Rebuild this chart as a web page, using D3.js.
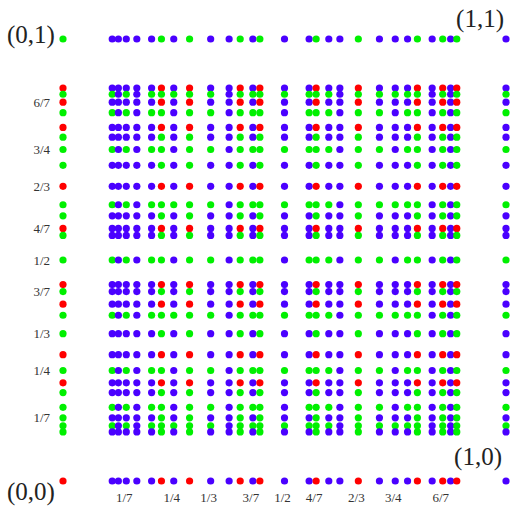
<!DOCTYPE html>
<html>
<head>
<meta charset="utf-8">
<script src="https://cdn.jsdelivr.net/npm/d3@7"></script>
<style>
  html, body { margin: 0; padding: 0; background: #fff; }
  svg { display: block; }
</style>
</head>
<body>
<script>
// grid coordinates: 0, the Farey fractions of order 9, and 1
const gridValues = [0, 1/9, 1/8, 1/7, 1/6, 1/5, 2/9, 1/4, 2/7, 1/3, 3/8, 2/5, 3/7, 4/9, 1/2,
  5/9, 4/7, 3/5, 5/8, 2/3, 5/7, 3/4, 7/9, 4/5, 5/6, 6/7, 7/8, 8/9, 1];

// one string per row, from y = 0 up to y = 1; one letter per column (r / g / b)
const colorRows = [
  "rbbbbbrbrbbrbrbbrbbrbbbrbrbrb",
  "gbbbbbgbgbbgbgbbgbbgbbbgbgbgb",
  "ggbgbgggggbgggggggbgggggbgbgg",
  "gbbbbbgbgbbgbgbbgbbgbbbgbgbgb",
  "ggbgbggbggbgggbgggbggbggbgbgg",
  "gbbbbbgbgbbgbgbbgbbgbbbgbgbgb",
  "rbbbbbrbrbbrbrbbrbbrbbbrbrbrb",
  "ggbgbggbggbgggggggbggbggbgbgg",
  "rbbbbbrbrbbrbrbbrbbrbbbrbrbrb",
  "gbbbbbgbgbbgbgbbgbbgbbbgbgbgb",
  "ggbgbgggggbgggggggbgggggbgbgg",
  "rbbbbbrbrbbrbrbbrbbrbbbrbrbrb",
  "gbbbbbgbgbbgbgbbgbbgbbbgbgbgb",
  "rbbbbbrbrbbrbrbbrbbrbbbrbrbrb",
  "ggbgbggbggbgggbgggbggbggbgbgg",
  "gbbbbbgbgbbgbgbbgbbgbbbgbgbgb",
  "rbbbbbrbrbbrbrbbrbbrbbbrbrbrb",
  "gbbbbbgbgbbgbgbbgbbgbbbgbgbgb",
  "ggbgbgggggbgggggggbgggggbgbgg",
  "rbbbbbrbrbbrbrbbrbbrbbbrbrbrb",
  "gbbbbbgbgbbgbgbbgbbgbbbgbgbgb",
  "ggbgbggbggbgggggggbggbggbgbgg",
  "gbbbbbgbgbbgbgbbgbbgbbbgbgbgb",
  "rbbbbbrbrbbrbrbbrbbrbbbrbrbrb",
  "ggbgbggbggbgggbgggbggbggbgbgg",
  "rbbbbbrbrbbrbrbbrbbrbbbrbrbrb",
  "ggbgbgggggbgggggggbgggggbgbgg",
  "rbbbbbrbrbbrbrbbrbbrbbbrbrbrb",
  "gbbbbbgbgbbgbgbbgbbgbbbgbgbgb"
];

const tickLabels = ["1/7", "1/4", "1/3", "3/7", "1/2", "4/7", "2/3", "3/4", "6/7"];
const tickValues = [1/7, 1/4, 1/3, 3/7, 1/2, 4/7, 2/3, 3/4, 6/7];

const cornerLabels = ["(0,0)", "(1,0)", "(0,1)", "(1,1)"];

const palette = { r: "#ff0000", g: "#00f000", b: "#4a00ff" };

const width = 510;
const height = 506;

const x = d3.scaleLinear().domain([0, 1]).range([63, 506]);
const y = d3.scaleLinear().domain([0, 1]).range([481, 39]);

const svg = d3.select("body").append("svg")
  .attr("width", width)
  .attr("height", height);

// points, top row first so lower rows sit on top where they touch
const points = [];
for (let j = gridValues.length - 1; j >= 0; j--) {
  gridValues.forEach((gx, i) => {
    points.push({ x: gx, y: gridValues[j], c: colorRows[j][i] });
  });
}

svg.append("g")
  .selectAll("circle")
  .data(points)
  .join("circle")
  .attr("cx", d => x(d.x))
  .attr("cy", d => y(d.y))
  .attr("r", 3.6)
  .attr("fill", d => palette[d.c]);

const labelFont = "'Liberation Serif', 'Times New Roman', serif";

// left tick labels
svg.append("g")
  .selectAll("text")
  .data(tickValues)
  .join("text")
  .attr("x", 50)
  .attr("y", d => y(d))
  .attr("dy", "0.35em")
  .attr("text-anchor", "end")
  .style("font-family", labelFont)
  .style("font-size", "13px")
  .style("fill", "#333")
  .text((d, i) => tickLabels[i]);

// bottom tick labels
svg.append("g")
  .selectAll("text")
  .data(tickValues)
  .join("text")
  .attr("x", d => x(d) - 2)
  .attr("y", 502)
  .attr("text-anchor", "middle")
  .style("font-family", labelFont)
  .style("font-size", "13px")
  .style("fill", "#333")
  .text((d, i) => tickLabels[i]);

// corner labels
const cornerPos = [
  { x: 7, y: 500, anchor: "start" },
  { x: 502, y: 465, anchor: "end" },
  { x: 7, y: 43, anchor: "start" },
  { x: 504, y: 27, anchor: "end" }
];
svg.append("g")
  .selectAll("text")
  .data(cornerLabels)
  .join("text")
  .attr("x", (d, i) => cornerPos[i].x)
  .attr("y", (d, i) => cornerPos[i].y)
  .attr("text-anchor", (d, i) => cornerPos[i].anchor)
  .style("font-family", labelFont)
  .style("font-size", "25px")
  .style("fill", "#222")
  .text(d => d);
</script>
</body>
</html>
